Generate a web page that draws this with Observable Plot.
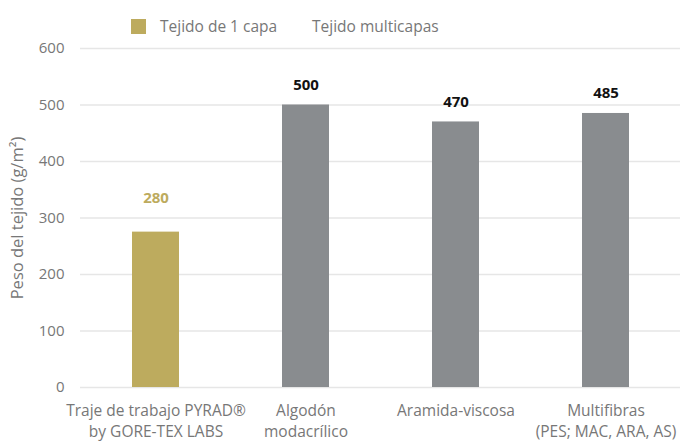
<!DOCTYPE html>
<html>
<head>
<meta charset="utf-8">
<script src="https://cdn.jsdelivr.net/npm/d3@7"></script>
<script src="https://cdn.jsdelivr.net/npm/@observablehq/plot@0.6"></script>
<style>
  body { margin: 0; background: #fff; font-family: "Open Sans", sans-serif; }
  #legend { height: 40px; position: relative; font-size: 15.5px; color: #777; }
  .sw { position: absolute; top: 19px; width: 15px; height: 15px; }
  .lt { position: absolute; top: 15px; line-height: 22px; }
  svg { overflow: visible; }
</style>
</head>
<body>
<div id="legend"></div>
<div id="chart"></div>
<script>
const categories = [
  "Traje de trabajo PYRAD®\nby GORE-TEX LABS",
  "Algodón\nmodacrílico",
  "Aramida-viscosa",
  "Multifibras\n(PES; MAC, ARA, AS)"
];
const values = [275, 500, 470, 485];
const valueLabels = ["280", "500", "470", "485"];
const labelAt = [300, 500, 470, 485];
const series = ["Tejido de 1 capa", "Tejido multicapas", "Tejido multicapas", "Tejido multicapas"];
const legendNames = ["Tejido de 1 capa", "Tejido multicapas"];
const legendColors = ["#bdab5e", "#ffffff"];
const barColors = ["#bdab5e", "#898c8f"];
const labelColors = ["#bdab5e", "#111111"];
const yTicks = [0, 100, 200, 300, 400, 500, 600];

const data = categories.map((c, i) => ({
  cat: c, value: values[i], label: valueLabels[i], at: labelAt[i], series: series[i]
}));

// legend
const leg = document.getElementById("legend");
const pos = [[131, 160], [287, 312]];
legendNames.forEach((n, i) => {
  const s = document.createElement("div");
  s.className = "sw"; s.style.left = pos[i][0] + "px"; s.style.background = legendColors[i];
  const t = document.createElement("div");
  t.className = "lt"; t.style.left = pos[i][1] + "px"; t.textContent = n;
  leg.appendChild(s); leg.appendChild(t);
});

const chart = Plot.plot({
  width: 680,
  height: 402,
  marginTop: 8,
  marginBottom: 55,
  marginLeft: 80,
  marginRight: 0,
  style: { fontFamily: "Open Sans, sans-serif", fontSize: "15px", color: "#777", background: "#fff", overflow: "visible" },
  x: { domain: categories, paddingInner: 0.69, paddingOuter: 0.345, label: null },
  y: { domain: [0, 600], ticks: yTicks, label: null },
  color: { domain: legendNames, range: barColors },
  marks: [
    Plot.ruleY(yTicks, { stroke: "#e6e6e6", strokeWidth: 1.5 }),
    Plot.barY(data, { x: "cat", y: "value", fill: "series" }),
    Plot.text(data, {
      x: "cat", y: "at", text: "label", dy: -20,
      fill: (d) => labelColors[legendNames.indexOf(d.series)],
      fontWeight: "bold", fontSize: 15
    }),
    Plot.axisY({ ticks: yTicks, tickSize: 0, tickPadding: 16, fontSize: 15, label: null }),
    Plot.axisX({ tickSize: 0, tickPadding: 13, fontSize: 15.5, lineHeight: 1.38, label: null }),
    Plot.text(["Peso del tejido (g/m²)"], {
      frameAnchor: "left", dx: -63, rotate: -90, textAnchor: "middle", fontSize: 16.5, fill: "#777"
    })
  ]
});
document.getElementById("chart").appendChild(chart);
</script>
</body>
</html>
